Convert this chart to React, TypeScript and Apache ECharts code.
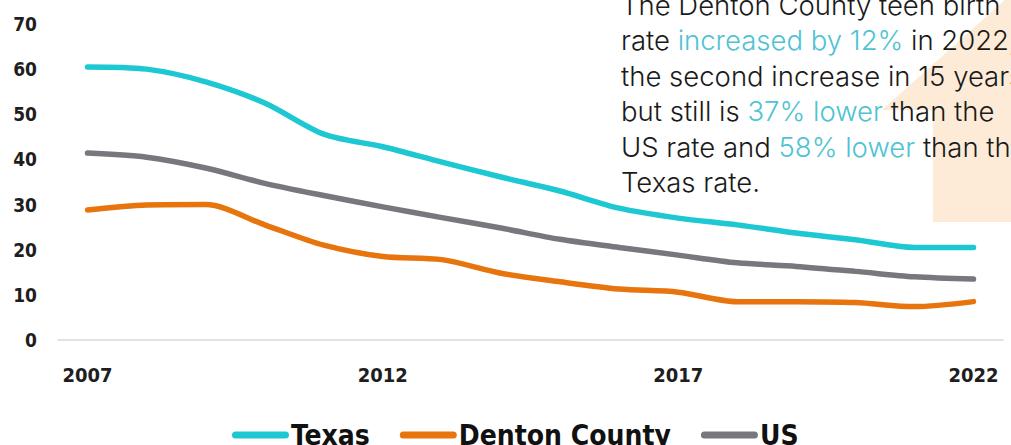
import React, { useEffect, useRef } from "react";
import * as echarts from "echarts";

const years = ["2007", "2008", "2009", "2010", "2011", "2012", "2013", "2014", "2015", "2016", "2017", "2018", "2019", "2020", "2021", "2022"];
const texas = [60.5, 60.0, 57.2, 52.5, 45.6, 42.8, 39.4, 36.1, 33.0, 29.2, 27.0, 25.5, 23.7, 22.2, 20.5, 20.5];
const denton = [28.8, 29.9, 30.0, 25.5, 21.0, 18.5, 17.8, 14.8, 12.9, 11.3, 10.6, 8.5, 8.5, 8.3, 7.4, 8.5];
const us = [41.4, 40.5, 38.1, 34.7, 32.0, 29.5, 27.1, 24.8, 22.3, 20.5, 18.8, 17.1, 16.3, 15.2, 14.0, 13.5];
const seriesNames = ["Texas", "Denton County", "US"];
const seriesColors = ["#1DC8D3", "#E7740C", "#77787D"];
const noteLines = [
  "The Denton County teen birth",
  "rate {c|increased by 12%} in 2022,",
  "the second increase in 15 years,",
  "but still is {c|37% lower} than the",
  "US rate and {c|58% lower} than the",
  "Texas rate.",
];

const axisFont = "'Liberation Sans Narrow', 'DejaVu Sans Condensed', 'Open Sans', sans-serif";
const noteFont = "Inter, 'Noto Sans', sans-serif";

export default function App() {
  const ref = useRef<HTMLDivElement>(null);
  useEffect(() => {
    if (!ref.current) return;
    const chart = echarts.init(ref.current, null, { renderer: "svg" });
    const data = [texas, denton, us];
    chart.setOption({
      animation: false,
      backgroundColor: "#ffffff",
      grid: { left: 58, right: 8, top: 24, bottom: 105 },
      xAxis: {
        type: "category",
        data: years,
        boundaryGap: true,
        axisLine: { show: true, lineStyle: { color: "#d9d9d9", width: 1.5 } },
        axisTick: { show: false },
        axisLabel: {
          interval: 4,
          margin: 25,
          color: "#1e1e1e",
          fontWeight: "bold",
          fontSize: 20,
          fontFamily: axisFont,
        },
      },
      yAxis: {
        type: "value",
        min: 0,
        max: 70,
        interval: 10,
        splitLine: { show: false },
        axisLine: { show: false },
        axisTick: { show: false },
        axisLabel: {
          margin: 21,
          color: "#1e1e1e",
          fontWeight: "bold",
          fontSize: 19,
          fontFamily: axisFont,
        },
      },
      legend: {
        data: seriesNames,
        left: 227,
        top: 416,
        itemWidth: 57,
        itemHeight: 7,
        itemGap: 30,
        icon: "path://M3.5,0 L53.5,0 A3.5,3.5 0 0 1 53.5,7 L3.5,7 A3.5,3.5 0 0 1 3.5,0 Z",
        textStyle: {
          color: "#111111",
          fontWeight: "bold",
          fontSize: 28,
          fontFamily: axisFont,
          padding: [0, 0, 0, -3],
        },
      },
      graphic: [
        {
          type: "polygon",
          z: 0,
          shape: {
            points: [
              [882, 110],
              [933, 110],
              [933, 222],
              [1011, 222],
              [1011, -6],
              [997, 7],
            ],
          },
          style: { fill: "#FDEBD7" },
        },
        {
          type: "text",
          z: 1,
          x: 621,
          y: -13,
          style: {
            text: noteLines.join("\n"),
            fill: "#1a1a1a",
            fontSize: 27.5,
            fontFamily: noteFont,
            fontWeight: 300,
            lineHeight: 35.5,
            verticalAlign: "top",
            rich: {
              c: {
                fill: "#4FC3D3",
                fontSize: 27.5,
                fontFamily: noteFont,
                fontWeight: 300,
                lineHeight: 35.5,
              },
            },
          },
        },
      ],
      series: seriesNames.map((name, i) => ({
        name,
        type: "line",
        data: data[i],
        smooth: 0.3,
        showSymbol: false,
        symbol: "none",
        lineStyle: { color: seriesColors[i], width: 5.5, cap: "round", join: "round" },
        itemStyle: { color: seriesColors[i] },
        z: 3,
      })),
    });
    return () => chart.dispose();
  }, []);
  return (
    <div
      ref={ref}
      style={{ position: "fixed", left: 0, top: 0, width: 1011, height: 445 }}
    />
  );
}
